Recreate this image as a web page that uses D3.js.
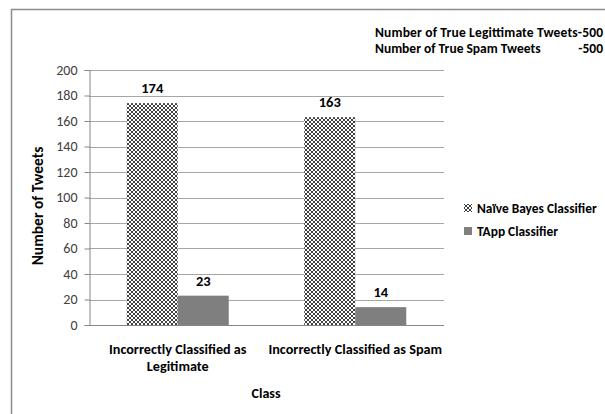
<!DOCTYPE html>
<html>
<head>
<meta charset="utf-8">
<script src="https://cdn.jsdelivr.net/npm/d3@7"></script>
<style>
  body { margin: 0; background: #fff; }
  text { font-family: Carlito, Lato, "Open Sans", sans-serif; }
</style>
</head>
<body>
<div id="chart"></div>
<script>
// data
var categories = ["Incorrectly Classified as Legitimate", "Incorrectly Classified as Spam"];
var categoryLines = [["Incorrectly Classified as", "Legitimate"], ["Incorrectly Classified as Spam"]];
var seriesNames = ["Naïve Bayes Classifier", "TApp Classifier"];
var naiveValues = [174, 163];
var tappValues = [23, 14];
var yTicks = [0, 20, 40, 60, 80, 100, 120, 140, 160, 180, 200];
var noteLines = [["Number of True Legittimate Tweets-500", ""], ["Number of True Spam Tweets", "-500"]];

var W = 605, H = 414;
var plot = {left: 89, right: 444, top: 70, bottom: 325};

var svg = d3.select("#chart").append("svg")
	.attr("width", W)
	.attr("height", H);

// patterns
var defs = svg.append("defs");
var pat = defs.append("pattern")
	.attr("id", "cross")
	.attr("patternUnits", "userSpaceOnUse")
	.attr("width", 4).attr("height", 4);
pat.append("rect").attr("width", 4).attr("height", 4).attr("fill", "#fff");
[[0,0],[1,1],[2,2],[3,3],[3,0],[2,1],[1,2],[0,3]].forEach(function(p) {
	pat.append("rect").attr("x", p[0]).attr("y", p[1])
		.attr("width", 1).attr("height", 1)
		.attr("fill", "#404040")
		.attr("shape-rendering", "crispEdges");
});
var fills = ["url(#cross)", "#7f7f7f"];

// outer border
svg.append("path")
	.attr("d", "M11.5," + H + "V9.5H" + W)
	.attr("fill", "none")
	.attr("stroke", "#8c8c8c")
	.attr("stroke-width", 1.5);

var x0 = d3.scaleBand().domain(categories).range([plot.left, plot.right]);
var y = d3.scaleLinear().domain([0, 200]).range([plot.bottom, plot.top]);
var barW = 51;

// gridlines
svg.append("g").selectAll("line").data(yTicks.filter(function(d) { return d > 0; }))
	.join("line")
	.attr("x1", plot.left).attr("x2", plot.right)
	.attr("y1", function(d) { return Math.round(y(d)) + 0.5; })
	.attr("y2", function(d) { return Math.round(y(d)) + 0.5; })
	.attr("stroke", "#a6a6a6");

// y axis
var yAxis = svg.append("g")
	.attr("transform", "translate(" + (plot.left + 0.5) + ",0)")
	.call(d3.axisLeft(y).tickValues(yTicks).tickSize(5).tickPadding(7));
yAxis.select(".domain").attr("stroke", "#868686");
yAxis.selectAll(".tick line").attr("stroke", "#868686");
yAxis.selectAll(".tick text")
	.attr("font-size", 14)
	.attr("fill", "#404040")
	.style("font-family", "Carlito, Lato, sans-serif");

// bars
var series = [naiveValues, tappValues];
series.forEach(function(vals, si) {
	svg.append("g").selectAll("rect").data(vals)
		.join("rect")
		.attr("x", function(d, i) { return x0.bandwidth() / 2 + x0(categories[i]) - barW + si * barW; })
		.attr("y", function(d) { return y(d); })
		.attr("width", barW)
		.attr("height", function(d) { return y(0) - y(d); })
		.attr("fill", fills[si]);
	svg.append("g").selectAll("text").data(vals)
		.join("text")
		.attr("x", function(d, i) { return x0.bandwidth() / 2 + x0(categories[i]) - barW / 2 + si * barW; })
		.attr("y", function(d) { return y(d) - 10; })
		.attr("text-anchor", "middle")
		.attr("font-size", 14.5)
		.attr("font-weight", "bold")
		.text(function(d) { return d; });
});

// x baseline
svg.append("line")
	.attr("x1", plot.left).attr("x2", plot.right)
	.attr("y1", plot.bottom + 0.5).attr("y2", plot.bottom + 0.5)
	.attr("stroke", "#868686");

// category labels
categoryLines.forEach(function(lines, i) {
	var t = svg.append("text")
		.attr("text-anchor", "middle")
		.attr("font-size", 14.2)
		.attr("font-weight", "bold");
	lines.forEach(function(l, j) {
		t.append("tspan")
			.attr("x", x0(categories[i]) + x0.bandwidth() / 2)
			.attr("y", 354 + j * 17)
			.text(l);
	});
});

// axis titles
svg.append("text")
	.attr("x", 266).attr("y", 398)
	.attr("text-anchor", "middle")
	.attr("font-size", 14).attr("font-weight", "bold")
	.text("Class");
svg.append("text")
	.attr("transform", "translate(43,206) rotate(-90)")
	.attr("text-anchor", "middle")
	.attr("font-size", 15.5).attr("font-weight", "bold")
	.text("Number of Tweets");

// legend
seriesNames.forEach(function(name, i) {
	var ly = 208 + i * 23;
	svg.append("rect")
		.attr("x", 464).attr("y", ly - 4)
		.attr("width", 8).attr("height", 8)
		.attr("fill", fills[i]);
	svg.append("text")
		.attr("x", 477).attr("y", ly + 5)
		.attr("font-size", 13.4).attr("font-weight", "bold")
		.text(name);
});

// note
noteLines.forEach(function(l, i) {
	var ny = 37 + i * 16;
	svg.append("text")
		.attr("x", 375).attr("y", ny)
		.attr("font-size", 13.5).attr("font-weight", "bold")
		.attr("textLength", i === 0 ? 228 : null)
		.text(l[0]);
	if (l[1]) {
		svg.append("text")
			.attr("x", 603).attr("y", ny)
			.attr("text-anchor", "end")
			.attr("font-size", 13.5).attr("font-weight", "bold")
			.text(l[1]);
	}
});
</script>
</body>
</html>
